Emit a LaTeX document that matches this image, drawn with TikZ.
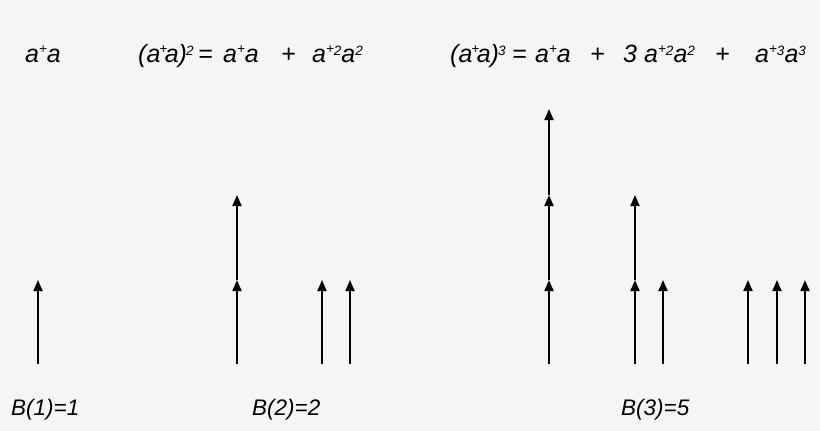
\documentclass[tikz,border=0pt]{standalone}
\usepackage{fontspec}
\setmainfont{Liberation Sans}
\usetikzlibrary{arrows.meta}
\definecolor{bg}{HTML}{F5F5F5}
\newcommand{\supx}[1]{\raisebox{6.5pt}{\fontsize{13.5}{13.5}\selectfont #1}}
\newcommand{\pls}{\raisebox{2pt}{+}}
\newcommand{\paren}[1]{(a\kern-1pt\supx{\pls}\kern-2.5pt a)\kern-1pt\supx{#1}}
\begin{document}
\begin{tikzpicture}[x=1pt,y=-1pt,
  txt/.style={anchor=base west, inner sep=0pt, font=\fontsize{25}{25}\selectfont\itshape},
  lbl/.style={anchor=base west, inner sep=0pt, font=\fontsize{22.5}{22.5}\selectfont\itshape},
  arr/.style={line width=1.8pt, -{Triangle[length=11pt,width=9pt]}}]
\fill[bg] (0,0) rectangle (820,431);
\useasboundingbox (0,0) rectangle (820,431);
% top formulas
\node[txt] (t1) at (25,62) {a\supx{\pls}a};
\node[txt] (t2a) at (138,62) {\paren{2}};
\node[txt] (t2e) at (198,62) {=};
\node[txt] (t2b) at (223,62) {a\supx{\pls}a};
\node[txt] (t2c) at (281,62) {+};
\node[txt] (t2d) at (312,62) {a\supx{\pls2}a\supx{2}};
\node[txt] (t3a) at (450,62) {\paren{3}};
\node[txt] (t3h) at (512,62) {=};
\node[txt] (t3b) at (535,62) {a\supx{\pls}a};
\node[txt] (t3c) at (590,62) {+};
\node[txt] (t3d) at (623,62) {3};
\node[txt] (t3e) at (644,62) {a\supx{\pls2}a\supx{2}};
\node[txt] (t3f) at (715,62) {+};
\node[txt] (t3g) at (755,62) {a\supx{\pls3}a\supx{3}};
% bottom labels
\node[lbl] (b1) at (11,415) {B(1)=1};
\node[lbl] (b2) at (252,415) {B(2)=2};
\node[lbl] (b3) at (621,415) {B(3)=5};
% coordinates
\foreach \x/\n in {38/a,237/b,322/c,350/d,549/e,635/f,663/g,748/h,777/i,805/j}{
  \coordinate (\n0) at (\x,364);
  \coordinate (\n1) at (\x,280);
  \coordinate (\n2) at (\x,195);
  \coordinate (\n3) at (\x,109);
}
% B(1)
\draw[arr] (a0) -- (a1);
% B(2)
\draw[arr] (b0) -- (b1);
\draw[arr] (b1) -- (b2);
\draw[arr] (c0) -- (c1);
\draw[arr] (d0) -- (d1);
% B(3)
\draw[arr] (e0) -- (e1);
\draw[arr] (e1) -- (e2);
\draw[arr] (e2) -- (e3);
\draw[arr] (f0) -- (f1);
\draw[arr] (f1) -- (f2);
\draw[arr] (g0) -- (g1);
\draw[arr] (h0) -- (h1);
\draw[arr] (i0) -- (i1);
\draw[arr] (j0) -- (j1);
\end{tikzpicture}
\end{document}
